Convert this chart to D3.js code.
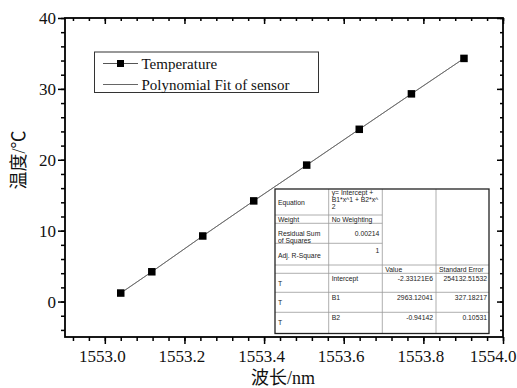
<!DOCTYPE html>
<html><head><meta charset="utf-8">
<script src="https://cdn.jsdelivr.net/npm/d3@7"></script>
<style>
html,body{margin:0;padding:0;background:#fff;}
svg{display:block;}
.serif{font-family:"Liberation Serif","Times New Roman","Noto Sans CJK SC",serif;}
.sans{font-family:"Liberation Sans",Arial,sans-serif;}
</style></head>
<body>
<svg id="chart" width="517" height="388"></svg>
<script>
// ---- data ----
const wavelength = [1553.040, 1553.118, 1553.246, 1553.374, 1553.507, 1553.639, 1553.770, 1553.902];
const temperature = [1.2, 4.2, 9.25, 14.2, 19.25, 24.3, 29.3, 34.3];
const xTickValues = [1553.0, 1553.2, 1553.4, 1553.6, 1553.8, 1554.0];
const yTickValues = [0, 10, 20, 30, 40];
const legendLabels = ["Temperature", "Polynomial Fit of sensor"];
const xTitle = "波长/nm";
const yTitle = "温度/℃";
// fit table
const tableTopLabels = ["Equation", "Weight", "Residual Sum|of Squares", "Adj. R-Square"];
const tableTopValues = ["y= Intercept +|B1*x^1 + B2*x^|2", "No Weighting", "0.00214", "1"];
const tableHeader = ["", "", "Value", "Standard Error"];
const paramNames = ["Intercept", "B1", "B2"];
const paramValues = ["-2.33121E6", "2963.12041", "-0.94142"];
const paramErrors = ["254132.51532", "327.18217", "0.10531"];

// ---- layout ----
const svg = d3.select("#chart");
const L = 65, R = 503, T = 18, B = 337;
const x = d3.scaleLinear().domain([1552.9, 1554.0]).range([L, R]);
const y = d3.scaleLinear().domain([-5, 40]).range([B, T]);

svg.append("rect").attr("width", 517).attr("height", 388).attr("fill", "#fff");

const xMinor = d3.range(1552.92, 1554.001, 0.04);
const yMinor = d3.range(-4, 40.01, 2);

function axisG(tx, ty, axis) {
  return svg.append("g").attr("transform", `translate(${tx},${ty})`).call(axis)
    .attr("font-family", null).attr("font-size", null);
}
// bottom axis (outward)
const gx = axisG(0, B, d3.axisBottom(x).tickValues(xTickValues).tickFormat(d3.format(".1f")).tickSize(7).tickPadding(6));
axisG(0, B, d3.axisBottom(x).tickValues(xMinor).tickFormat("").tickSize(4));
// top axis (inward)
axisG(0, T, d3.axisBottom(x).tickValues(xTickValues).tickFormat("").tickSize(6));
axisG(0, T, d3.axisBottom(x).tickValues(xMinor).tickFormat("").tickSize(3));
// left axis (outward)
axisG(L, 0, d3.axisLeft(y).tickValues(yTickValues).tickFormat(d3.format("d")).tickSize(7).tickPadding(2));
axisG(L, 0, d3.axisLeft(y).tickValues(yMinor).tickFormat("").tickSize(4));
// right axis (inward)
axisG(R, 0, d3.axisLeft(y).tickValues(yTickValues).tickFormat("").tickSize(6));
axisG(R, 0, d3.axisLeft(y).tickValues(yMinor).tickFormat("").tickSize(3));

svg.selectAll(".tick line").attr("stroke", "#000").attr("stroke-width", 1.5);
svg.selectAll(".domain").remove();
svg.selectAll(".tick text").attr("class", "serif").style("font-size", "17px").attr("fill", "#111");
// x labels sit slightly left of their ticks; the last one is pulled in to fit the page
gx.selectAll(".tick text").attr("dx", -3);
gx.selectAll(".tick").filter(d => d === 1554.0).select("text")
  .attr("text-anchor", "end").attr("dx", 516 - R);

// frame
svg.append("rect").attr("x", L).attr("y", T).attr("width", R - L).attr("height", B - T)
  .attr("fill", "none").attr("stroke", "#000").attr("stroke-width", 1.8);

// axis titles
svg.append("text").attr("class", "serif").attr("x", 283).attr("y", 384).attr("text-anchor", "middle")
  .style("font-size", "18px").attr("fill", "#111").text(xTitle);
svg.append("text").attr("class", "serif").attr("transform", "translate(25,160) rotate(-90)").attr("text-anchor", "middle")
  .style("font-size", "18px").attr("fill", "#111").text(yTitle);

// lines
const pts = wavelength.map((w, i) => [w, temperature[i]]);
const line = d3.line().x(d => x(d[0])).y(d => y(d[1]));
svg.append("path").attr("d", line(pts)).attr("fill", "none").attr("stroke", "#888").attr("stroke-width", 1);
svg.append("path").attr("d", line(pts)).attr("fill", "none").attr("stroke", "#666").attr("stroke-width", 0.8);

// markers
const sq = 7.5;
svg.selectAll("rect.pt").data(pts).join("rect").attr("class", "pt")
  .attr("x", d => x(d[0]) - sq / 2).attr("y", d => y(d[1]) - sq / 2)
  .attr("width", sq).attr("height", sq).attr("fill", "#000");

// legend
const lg = svg.append("g");
lg.append("rect").attr("x", 94.5).attr("y", 52).attr("width", 224).attr("height", 40.5)
  .attr("fill", "#fff").attr("stroke", "#333").attr("stroke-width", 1);
lg.append("line").attr("x1", 103).attr("x2", 138).attr("y1", 63.5).attr("y2", 63.5).attr("stroke", "#555").attr("stroke-width", 1.2);
lg.append("rect").attr("x", 120.5 - 3.5).attr("y", 63.5 - 3.5).attr("width", 7).attr("height", 7).attr("fill", "#000");
lg.append("line").attr("x1", 103).attr("x2", 138).attr("y1", 84.5).attr("y2", 84.5).attr("stroke", "#666").attr("stroke-width", 1);
lg.append("text").attr("class", "serif").attr("x", 141.5).attr("y", 68.5).style("font-size", "15px").attr("fill", "#111").text(legendLabels[0]);
lg.append("text").attr("class", "serif").attr("x", 141.5).attr("y", 89.5).style("font-size", "15px").attr("fill", "#111").text(legendLabels[1]);

// fit table
const tb = svg.append("g");
const cx = [275, 328.7, 382.3, 436, 489];
const ry = [189, 215, 223.3, 243.3, 265, 273.3, 292.3, 312.3, 333.5];
tb.append("rect").attr("x", cx[0]).attr("y", ry[0]).attr("width", cx[4] - cx[0]).attr("height", ry[8] - ry[0])
  .attr("fill", "#fff");
for (let i = 1; i < 8; i++) {
  const full = i >= 4;
  tb.append("line").attr("x1", cx[0]).attr("x2", full ? cx[4] : cx[2]).attr("y1", ry[i]).attr("y2", ry[i])
    .attr("stroke", "#9a9a9a").attr("stroke-width", 0.8);
}
for (let j = 1; j < 4; j++) {
  tb.append("line").attr("x1", cx[j]).attr("x2", cx[j]).attr("y1", ry[0]).attr("y2", ry[8])
    .attr("stroke", "#9a9a9a").attr("stroke-width", 0.8);
}
tb.append("rect").attr("x", cx[0]).attr("y", ry[0]).attr("width", cx[4] - cx[0]).attr("height", ry[8] - ry[0])
  .attr("fill", "none").attr("stroke", "#222").attr("stroke-width", 1.3);

const fs = 6.8;
function cellText(xp, yp, txt, anchor) {
  txt.split("|").forEach((s, k) => {
    tb.append("text").attr("class", "sans").attr("x", xp).attr("y", yp + k * 7.4)
      .style("font-size", fs + "px").attr("fill", "#222").attr("text-anchor", anchor || "start").text(s);
  });
}
const labelY = [204.5, 222, 235.5, 257.5];
tableTopLabels.forEach((s, i) => cellText(cx[0] + 3, labelY[i], s));
cellText(cx[1] + 3, 194.5, tableTopValues[0]);
cellText(cx[1] + 3, 221.5, tableTopValues[1]);
cellText(cx[2] - 3, 235.5, tableTopValues[2], "end");
cellText(cx[2] - 3, 253, tableTopValues[3], "end");
cellText(cx[2] + 3, 272, tableHeader[2]);
cellText(cx[3] + 3, 272, tableHeader[3]);
const pRowTop = [ry[5], ry[6], ry[7]];
paramNames.forEach((p, i) => {
  const top = pRowTop[i];
  cellText(cx[0] + 3, top + 13, "T");
  cellText(cx[1] + 3, top + 8, p);
  cellText(cx[3] - 3, top + 8, paramValues[i], "end");
  cellText(cx[4] - 2, top + 8, paramErrors[i], "end");
});
</script>
</body></html>
